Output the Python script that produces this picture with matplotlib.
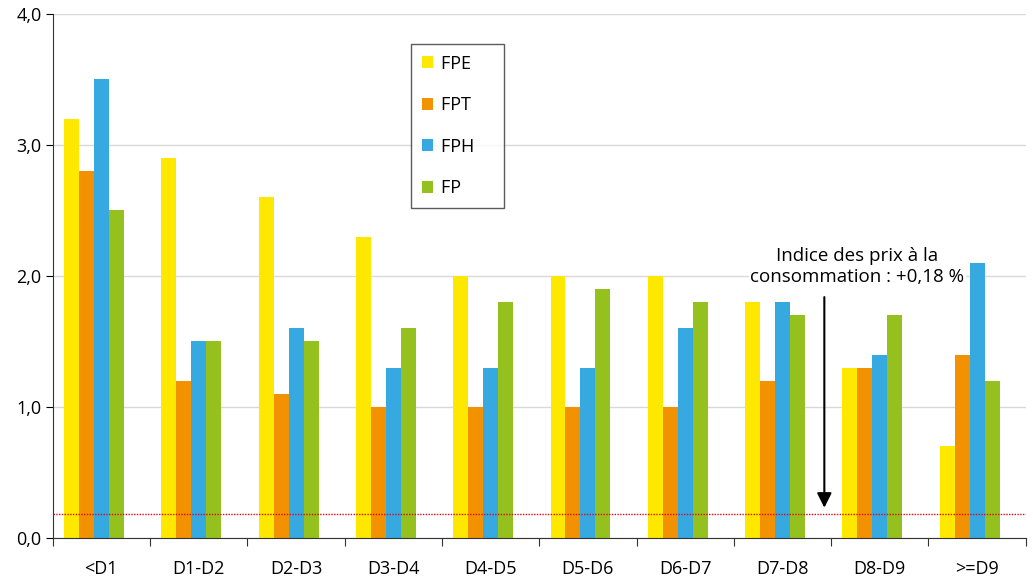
import matplotlib.pyplot as plt
import numpy as np
from matplotlib.ticker import FuncFormatter, MultipleLocator

plt.rcParams['font.family'] = ['Open Sans', 'DejaVu Sans']

categories = ['<D1', 'D1-D2', 'D2-D3', 'D3-D4', 'D4-D5', 'D5-D6', 'D6-D7', 'D7-D8', 'D8-D9', '>=D9']
fpe = [3.2, 2.9, 2.6, 2.3, 2.0, 2.0, 2.0, 1.8, 1.3, 0.7]
fpt = [2.8, 1.2, 1.1, 1.0, 1.0, 1.0, 1.0, 1.2, 1.3, 1.4]
fph = [3.5, 1.5, 1.6, 1.3, 1.3, 1.3, 1.6, 1.8, 1.4, 2.1]
fp = [2.5, 1.5, 1.5, 1.6, 1.8, 1.9, 1.8, 1.7, 1.7, 1.2]
series_names = ['FPE', 'FPT', 'FPH', 'FP']
colors = ['#FFE800', '#F39200', '#36A9E1', '#95C11F']
ipc = 0.18

fig = plt.figure(figsize=(10.33, 5.81), dpi=100)
ax = fig.add_axes([0.051, 0.074, 0.942, 0.902])

x = np.arange(len(categories))
width = 0.154
offset = 0.116
for j, (vals, name, c) in enumerate(zip([fpe, fpt, fph, fp], series_names, colors)):
    ax.bar(x + offset + width * (j + 0.5), vals, width, color=c, label=name, zorder=2)

# inflation line
ax.axhline(ipc, color='#E30613', lw=1, ls=(0, (1, 1)), zorder=3)

ax.set_xlim(0, 10)
ax.set_ylim(0, 4)
ax.yaxis.set_major_locator(MultipleLocator(1))
ax.yaxis.set_major_formatter(FuncFormatter(lambda v, p: f"{v:.1f}".replace('.', ',')))
ax.grid(axis='y', color='#D9D9D9', lw=1, zorder=0)
ax.set_axisbelow(True)

ax.set_xticks(np.arange(11))
ax.set_xticklabels([])
ax.set_xticks(x + 0.5, minor=True)
ax.set_xticklabels(categories, minor=True)
ax.tick_params(axis='x', which='minor', length=0, pad=16, labelsize=13)
ax.tick_params(axis='x', which='major', length=6, direction='out', color='#333333')
ax.tick_params(axis='y', length=5, direction='out', labelsize=13, pad=3)

for s in ['top', 'right']:
    ax.spines[s].set_visible(False)
ax.spines['left'].set_color('#333333')
ax.spines['bottom'].set_color('#333333')

leg = ax.legend(loc='upper left', bbox_to_anchor=(0.368, 0.943), frameon=True, fancybox=False,
                edgecolor='#333333', fontsize=13, handlelength=0.65, handleheight=0.65,
                labelspacing=1.3, handletextpad=0.45, borderpad=0.6, borderaxespad=0)
leg.get_frame().set_linewidth(1)
for t in leg.get_texts():
    t.set_text(t.get_text() + '    ')

ax.annotate('', xy=(7.93, 0.21), xytext=(7.93, 1.86),
            arrowprops=dict(arrowstyle='-|>', color='black', lw=1.5, mutation_scale=22), zorder=5)
ax.text(8.27, 2.07, 'Indice des prix à la\nconsommation : +0,18 %', ha='center', va='center',
        fontsize=13.5, linespacing=1.2, zorder=1.5,
        bbox=dict(facecolor='white', edgecolor='none', pad=1))

fig.savefig('out.png', dpi=100)
